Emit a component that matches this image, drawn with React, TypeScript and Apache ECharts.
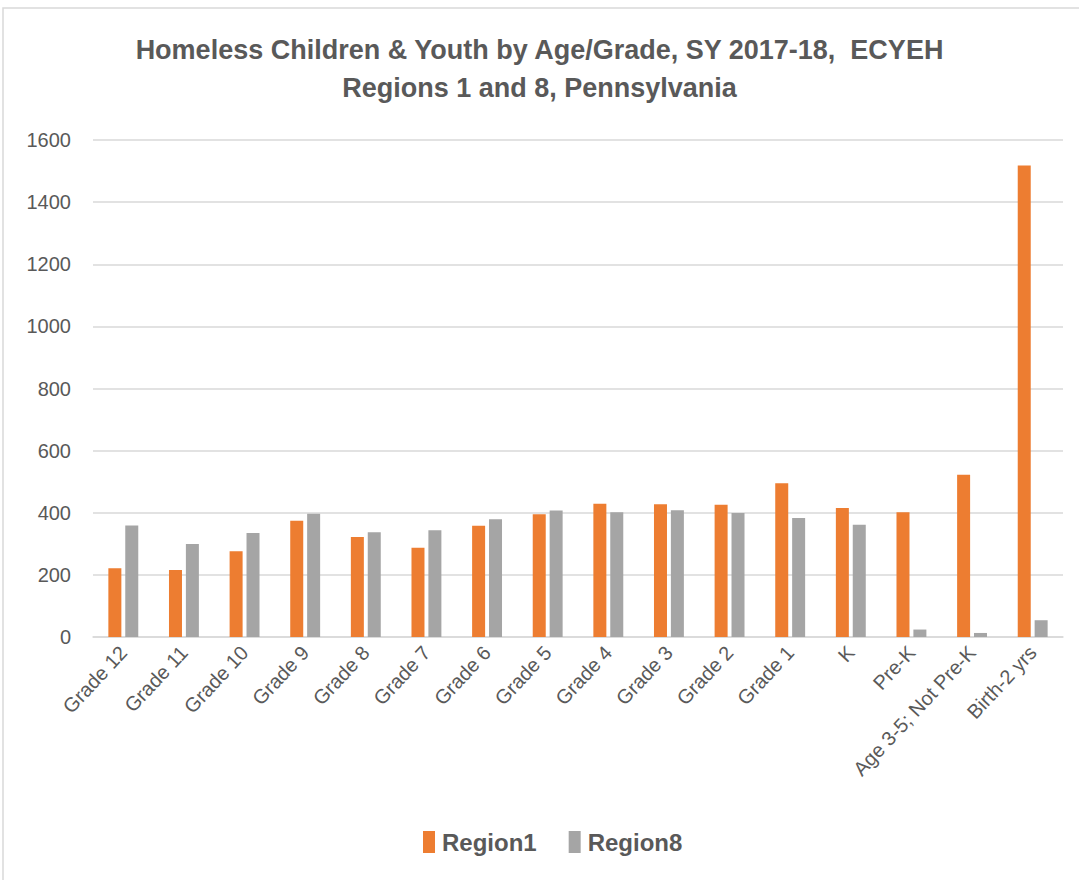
import React, { useEffect, useRef } from "react";
import * as echarts from "echarts";

const categories = [
  "Grade 12", "Grade 11", "Grade 10", "Grade 9", "Grade 8", "Grade 7", "Grade 6", "Grade 5",
  "Grade 4", "Grade 3", "Grade 2", "Grade 1", "K", "Pre-K", "Age 3-5; Not Pre-K", "Birth-2 yrs",
];
const region1 = [221, 216, 276, 374, 322, 287, 358, 395, 429, 427, 426, 495, 415, 402, 522, 1518];
const region8 = [359, 299, 335, 397, 337, 344, 379, 407, 402, 408, 399, 383, 361, 24, 13, 54];
const titleLines = [
  "Homeless Children & Youth by Age/Grade, SY 2017-18,  ECYEH",
  "Regions 1 and 8, Pennsylvania",
];

export default function App() {
  const ref = useRef<HTMLDivElement>(null);
  useEffect(() => {
    const chart = echarts.init(ref.current!, null, { renderer: "svg" });
    const font = "'Liberation Sans', Arial, sans-serif";
    chart.setOption({
      animation: false,
      backgroundColor: "#ffffff",
      graphic: [
        {
          type: "rect",
          shape: { x: 3, y: 8, width: 1100, height: 900 },
          style: { fill: "none", stroke: "#d9d9d9", lineWidth: 1.5 },
          silent: true,
        },
      ],
      title: {
        text: titleLines.join("\n"),
        left: "center",
        top: 26,
        textStyle: {
          fontFamily: font,
          fontSize: 27,
          fontWeight: "bold",
          color: "#595959",
          lineHeight: 38,
        },
      },
      legend: {
        top: 825,
        left: 418,
        itemWidth: 12,
        itemHeight: 22,
        itemGap: 32,
        icon: "rect",
        textStyle: { fontFamily: font, fontSize: 24, fontWeight: "bold", color: "#595959", padding: [0, 0, 0, 2] },
        data: ["Region1", "Region8"],
      },
      grid: { left: 93, right: 16, top: 140, bottom: 243, containLabel: false },
      xAxis: {
        type: "category",
        data: categories,
        axisLine: { lineStyle: { color: "#d9d9d9", width: 1.5 } },
        axisTick: { show: false },
        axisLabel: {
          rotate: 47,
          interval: 0,
          margin: 12,
          fontFamily: font,
          fontSize: 20,
          color: "#595959",
        },
      },
      yAxis: {
        type: "value",
        min: 0,
        max: 1600,
        interval: 200,
        axisLine: { show: false },
        axisTick: { show: false },
        splitLine: { lineStyle: { color: "#d9d9d9", width: 1.5 } },
        axisLabel: {
          fontFamily: font,
          fontSize: 20,
          color: "#595959",
          margin: 22,
          formatter: (v: number) => String(v),
        },
      },
      series: [
        {
          name: "Region1",
          type: "bar",
          data: region1,
          barWidth: 13,
          barGap: "30%",
          itemStyle: { color: "#ED7D31" },
        },
        {
          name: "Region8",
          type: "bar",
          data: region8,
          barWidth: 13,
          itemStyle: { color: "#A5A5A5" },
        },
      ],
    });
    return () => chart.dispose();
  }, []);
  return (
    <div
      ref={ref}
      style={{ position: "fixed", left: 0, top: 0, width: 1079, height: 880 }}
    />
  );
}
